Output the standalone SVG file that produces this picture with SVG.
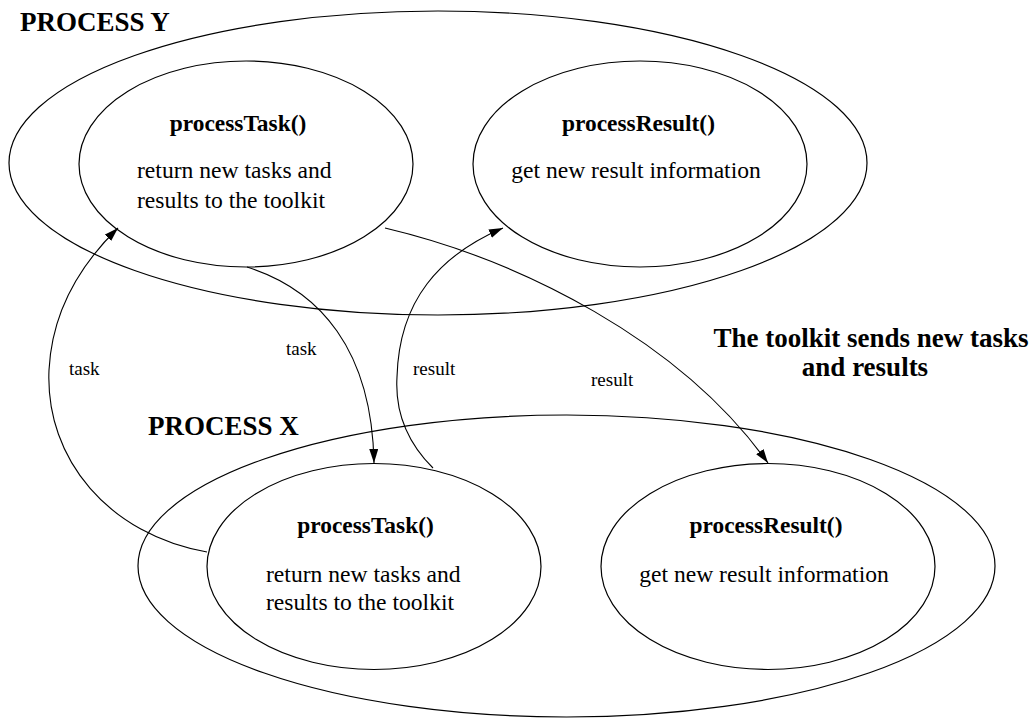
<svg xmlns="http://www.w3.org/2000/svg" width="1036" height="718" viewBox="0 0 1036 718">
<defs>
<marker id="arr" markerUnits="userSpaceOnUse" markerWidth="15" markerHeight="10" refX="14" refY="4.5" orient="auto">
<path d="M0,0 L14,4.5 L0,9 z" fill="#000"/>
</marker>
<style>
.e{fill:none;stroke:#000;stroke-width:1.2}
.c{fill:none;stroke:#000;stroke-width:1.1;marker-end:url(#arr)}
text{font-family:'Liberation Serif','Times New Roman','DejaVu Serif',serif;fill:#000}
.big{font-weight:bold;font-size:27px}
.h{font-weight:bold;font-size:23.4px}
.t{font-size:23.6px}
.l{font-size:19px}
</style>
</defs>
<rect width="1036" height="718" fill="#fff"/>
<g id="processY">
<ellipse class="e" cx="438" cy="163" rx="429" ry="152"/>
<text class="big" x="20" y="31" font-family="Liberation Serif">PROCESS Y</text>
</g>
<g id="processX">
<ellipse class="e" cx="566.5" cy="566" rx="428.5" ry="151"/>
<text class="big" x="148" y="435" font-family="Liberation Serif">PROCESS X</text>
</g>
<g id="taskY">
<ellipse class="e" cx="246" cy="164" rx="167" ry="103"/>
<text class="h" x="238" y="131" text-anchor="middle" font-family="Liberation Serif">processTask()</text>
<text class="t" x="137" y="178" font-family="Liberation Serif">return new tasks and</text>
<text class="t" x="137" y="208" font-family="Liberation Serif">results to the toolkit</text>
</g>
<g id="resultY">
<ellipse class="e" cx="640" cy="164" rx="167" ry="103"/>
<text class="h" x="638.5" y="131" text-anchor="middle" font-family="Liberation Serif">processResult()</text>
<text class="t" x="636" y="178" text-anchor="middle" font-family="Liberation Serif">get new result information</text>
</g>
<g id="taskX">
<ellipse class="e" cx="374" cy="566.5" rx="167" ry="103"/>
<text class="h" x="365.5" y="533" text-anchor="middle" font-family="Liberation Serif">processTask()</text>
<text class="t" x="266" y="582" font-family="Liberation Serif">return new tasks and</text>
<text class="t" x="266" y="610" font-family="Liberation Serif">results to the toolkit</text>
</g>
<g id="resultX">
<ellipse class="e" cx="768" cy="566.5" rx="167" ry="103"/>
<text class="h" x="766" y="533" text-anchor="middle" font-family="Liberation Serif">processResult()</text>
<text class="t" x="764" y="582" text-anchor="middle" font-family="Liberation Serif">get new result information</text>
</g>
<g id="note">
<text class="big" x="871" y="347" text-anchor="middle" font-family="Liberation Serif">The toolkit sends new tasks</text>
<text class="big" x="865" y="376" text-anchor="middle" font-family="Liberation Serif">and results</text>
</g>
<g id="connectors">
<path class="c" d="M207,552 C110,535 45,460 49,370 C52,310 80,265 118,228"/>
<path class="c" d="M247,267 C320,290 372,350 374,463"/>
<path class="c" d="M433,468 C405,440 395,410 397,377 C399,300 440,255 503,228"/>
<path class="c" d="M385,228 C520,260 680,340 768,463"/>
<text class="l" x="69" y="375" font-family="Liberation Serif">task</text>
<text class="l" x="286" y="355" font-family="Liberation Serif">task</text>
<text class="l" x="413" y="375" font-family="Liberation Serif">result</text>
<text class="l" x="591" y="386" font-family="Liberation Serif">result</text>
</g>
</svg>
